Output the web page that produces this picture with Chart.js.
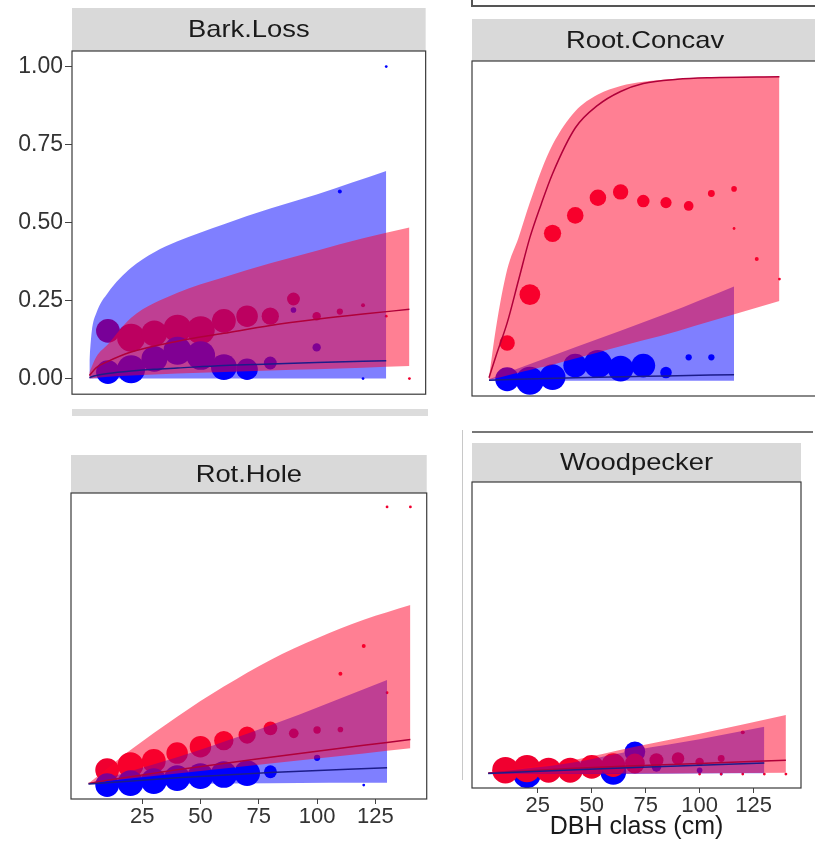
<!DOCTYPE html>
<html>
<head>
<meta charset="utf-8">
<script src="https://cdn.jsdelivr.net/npm/chart.js@4.4.1/dist/chart.umd.min.js"></script>
<style>
  html, body { margin: 0; padding: 0; background: #fff; }
  body { width: 815px; height: 848px; position: relative; overflow: hidden; }
  .panel, .deco { position: absolute; }
</style>
</head>
<body>
<div class="deco" style="left:471px;top:0;width:1.5px;height:6px;background:#555"></div>
<div class="deco" style="left:471px;top:5px;width:344px;height:1.5px;background:#555"></div>
<div class="deco" style="left:72px;top:409px;width:356px;height:7px;background:#dcdcdc"></div>
<div class="deco" style="left:472px;top:431px;width:341px;height:1.5px;background:#777"></div>
<div class="deco" style="left:462px;top:430px;width:1px;height:350px;background:#c8c8c8"></div>

<div class="panel" style="left:0;top:0;width:440px;height:410px"><canvas id="bark" width="440" height="410"></canvas></div>
<div class="panel" style="left:440px;top:0;width:392px;height:410px"><canvas id="root" width="392" height="410"></canvas></div>
<div class="panel" style="left:0;top:440px;width:440px;height:408px"><canvas id="rot" width="440" height="408"></canvas></div>
<div class="panel" style="left:440px;top:420px;width:375px;height:428px"><canvas id="wood" width="375" height="428"></canvas></div>

<script>
// axis ticks and titles
const dbhTicks = [25, 50, 75, 100, 125];
const probTicks = [0, 0.25, 0.5, 0.75, 1];
const panelTitles = ["Bark.Loss", "Root.Concav", "Rot.Hole", "Woodpecker"];
const xTitle = "DBH class (cm)";

// observed points: [DBH class, proportion, trees in class]
const barkBluePts = [[10,0.021,72],[20,0.03,100],[30,0.063,85],[40,0.089,100],[50,0.074,105],[60,0.037,85],[70,0.03,59],[80,0.05,21],[90,0.22,4],[100,0.1,9],[110,0.6,2],[120,0,1],[130,1,1]];
const barkRedPts = [[10,0.153,72],[20,0.131,100],[30,0.145,85],[40,0.16,100],[50,0.155,100],[60,0.185,72],[70,0.2,59],[80,0.2,38],[90,0.255,21],[100,0.2,9],[110,0.215,5],[120,0.235,2],[130,0.2,1],[140,0,1]];
const rootBluePts = [[10,0.005,72],[20,0,100],[30,0.012,85],[40,0.05,72],[50,0.055,100],[60,0.04,85],[70,0.05,72],[80,0.027,17],[90,0.077,5],[100,0.077,5]];
const rootRedPts = [[10,0.124,30],[20,0.283,55],[30,0.484,38],[40,0.543,35],[50,0.601,35],[60,0.62,30],[70,0.59,20],[80,0.585,16],[90,0.574,12],[100,0.615,6],[110,0.63,4],[110,0.5,1],[120,0.4,2],[130,0.334,1]];
const rotBluePts = [[10,0,72],[20,0.007,85],[30,0.014,85],[40,0.025,85],[50,0.032,85],[60,0.038,90],[70,0.043,85],[80,0.048,21],[100,0.098,5],[120,0,1]];
const rotRedPts = [[10,0.054,72],[20,0.072,85],[30,0.087,72],[40,0.115,59],[50,0.138,59],[60,0.16,48],[70,0.18,38],[80,0.204,24],[90,0.186,12],[100,0.198,7],[110,0.2,4],[110,0.4,2],[120,0.5,2],[130,0.332,1],[130,1,1],[140,1,1]];
const woodBluePts = [[20,0,100],[60,0.008,85],[70,0.08,55],[80,0.026,12],[100,0.014,4],[110,0,1]];
const woodRedPts = [[10,0.014,90],[20,0.02,95],[30,0.014,80],[40,0.014,80],[50,0.026,72],[60,0.032,72],[70,0.038,50],[80,0.05,25],[90,0.056,20],[100,0.044,9],[110,0.056,6],[120,0.15,2],[100,0,1],[110,0,1],[120,0,1],[130,0,1],[140,0,1]];

// fitted curves with 95% band
const barkBlueX = [2, 3, 5, 10, 20, 30, 40, 60, 80, 100, 130];
const barkBlueHi = [0.06, 0.15, 0.21, 0.275, 0.355, 0.405, 0.44, 0.495, 0.545, 0.59, 0.665];
const barkBlueLo = [0, 0, 0, 0, 0, 0, 0, 0, 0, 0, 0];
const barkBlueFit = [0.003, 0.006, 0.01, 0.016, 0.024, 0.03, 0.034, 0.042, 0.047, 0.052, 0.057];
const barkRedX = [2, 5, 10, 20, 40, 60, 80, 100, 120, 140];
const barkRedHi = [0.02, 0.07, 0.11, 0.195, 0.275, 0.325, 0.37, 0.41, 0.45, 0.484];
const barkRedLo = [0, 0.003, 0.006, 0.01, 0.016, 0.021, 0.026, 0.03, 0.035, 0.04];
const barkRedFit = [0.01, 0.035, 0.055, 0.085, 0.12, 0.145, 0.17, 0.19, 0.207, 0.222];

const rootBlueX = [2, 40, 80, 110];
const rootBlueHi = [0.005, 0.11, 0.22, 0.31];
const rootBlueLo = [0, 0, 0, 0];
const rootBlueFit = [0.002, 0.01, 0.016, 0.02];
const rootRedX = [2, 5, 10, 15, 20, 25, 30, 40, 50, 60, 70, 85, 100, 130];
const rootRedHi = [0.01, 0.17, 0.365, 0.47, 0.585, 0.69, 0.775, 0.885, 0.94, 0.968, 0.982, 0.992, 0.996, 0.999];
const rootRedLo = [0.003, 0.008, 0.017, 0.026, 0.035, 0.044, 0.053, 0.073, 0.093, 0.113, 0.133, 0.163, 0.196, 0.262];
const rootRedFit = [0.01, 0.08, 0.19, 0.33, 0.47, 0.58, 0.68, 0.83, 0.905, 0.95, 0.976, 0.99, 0.995, 0.998];

const rotBlueX = [2, 40, 80, 130];
const rotBlueHi = [0.006, 0.1, 0.215, 0.378];
const rotBlueLo = [0.003, 0.005, 0.007, 0.008];
const rotBlueFit = [0.004, 0.026, 0.045, 0.062];
const rotRedX = [2, 10, 20, 40, 60, 80, 100, 120, 140];
const rotRedHi = [0.006, 0.06, 0.126, 0.246, 0.354, 0.45, 0.528, 0.594, 0.647];
const rotRedLo = [0.006, 0.015, 0.024, 0.042, 0.06, 0.078, 0.096, 0.114, 0.132];
const rotRedFit = [0.006, 0.017, 0.03, 0.055, 0.078, 0.1, 0.122, 0.143, 0.164];

const woodBlueX = [2, 40, 70, 100, 130];
const woodBlueHi = [0.005, 0.04, 0.086, 0.125, 0.17];
const woodBlueLo = [0, 0, 0, 0.002, 0.003];
const woodBlueFit = [0.002, 0.015, 0.024, 0.032, 0.04];
const woodRedX = [2, 40, 70, 100, 140];
const woodRedHi = [0.005, 0.048, 0.098, 0.145, 0.212];
const woodRedLo = [0, 0.001, 0.002, 0.003, 0.005];
const woodRedFit = [0.004, 0.02, 0.03, 0.038, 0.05];

const FONT = '"Liberation Sans", Arial, Helvetica, sans-serif';
const RED = "#f00030", BLUE = "#0000ff";
const RED_BAND = "rgba(255,0,40,0.5)", BLUE_BAND = "rgba(0,0,255,0.5)";
const RED_LINE = "#b0003a", BLUE_LINE = "#1c1c8a";

function sizeOf(n) {
  return 1.4 * Math.sqrt(n);
}

function toBubbles(pts) {
  return pts.map((p) => ({ x: p[0], y: p[1], r: sizeOf(p[2]) }));
}

function toCurve(xs, ys) {
  return xs.map((x, i) => ({ x: x, y: ys[i] }));
}

function group(g) {
  return [
    { type: "bubble", data: toBubbles(g.pts), backgroundColor: g.color, borderWidth: 0, order: g.ptOrder },
    { type: "line", data: toCurve(g.x, g.hi), fill: "+1", backgroundColor: g.band, borderColor: "transparent",
      borderWidth: 0, pointRadius: 0, cubicInterpolationMode: "monotone", order: g.bandOrder },
    { type: "line", data: toCurve(g.x, g.lo), fill: false, borderColor: "transparent",
      borderWidth: 0, pointRadius: 0, cubicInterpolationMode: "monotone", order: g.bandOrder },
    { type: "line", data: toCurve(g.x, g.fit), fill: false, borderColor: g.line, borderWidth: 1.5,
      pointRadius: 0, cubicInterpolationMode: "monotone", order: 1 },
  ];
}

// grey facet strip on top and dark border round the panel
const stripPlugin = {
  id: "strip",
  beforeDraw(chart, args, opts) {
    const ctx = chart.ctx;
    const a = chart.chartArea;
    ctx.save();
    ctx.fillStyle = "#d9d9d9";
    ctx.fillRect(a.left, opts.top, a.right - a.left, a.top - opts.top);
    ctx.fillStyle = "#1a1a1a";
    ctx.font = "24px " + FONT;
    ctx.textAlign = "center";
    ctx.textBaseline = "middle";
    ctx.translate((a.left + a.right) / 2, (opts.top + a.top) / 2 + 1);
    ctx.scale(1.14, 1);
    ctx.fillText(opts.title, 0, 0);
    ctx.restore();
  },
  afterDraw(chart) {
    const ctx = chart.ctx;
    const a = chart.chartArea;
    ctx.save();
    ctx.strokeStyle = "#3a3a3a";
    ctx.lineWidth = 1.2;
    ctx.strokeRect(a.left, a.top, a.right - a.left, a.bottom - a.top);
    ctx.restore();
  },
};

function makePanel(id, datasets, p) {
  return new Chart(document.getElementById(id), {
    type: "bubble",
    data: { datasets: datasets },
    options: {
      responsive: false,
      animation: false,
      events: [],
      layout: { padding: p.padding },
      plugins: {
        legend: { display: false },
        tooltip: { enabled: false },
        strip: { title: p.title, top: p.stripTop },
      },
      scales: {
        x: {
          type: "linear",
          min: -5.5,
          max: 147,
          bounds: "data",
          display: p.showX,
          afterBuildTicks: (s) => { s.ticks = dbhTicks.map((v) => ({ value: v })); },
          afterFit: (s) => { s.height = p.showX ? p.xHeight : 0; },
          ticks: { autoSkip: false, maxRotation: 0, padding: 0, color: "#333", font: { family: FONT, size: 22 } },
          grid: { drawOnChartArea: false, tickLength: 5, tickColor: "#444", lineWidth: 1 },
          border: { display: false },
          title: { display: !!p.xTitle, text: p.xTitle || "", color: "#1a1a1a", padding: 0, font: { family: FONT, size: 25 } },
        },
        y: {
          type: "linear",
          min: -0.05,
          max: 1.05,
          bounds: "data",
          display: p.showY,
          afterBuildTicks: (s) => { s.ticks = probTicks.map((v) => ({ value: v })); },
          afterFit: (s) => { s.width = p.showY ? 72 : 0; },
          ticks: { autoSkip: false, padding: 2, color: "#333", font: { family: FONT, size: 23 },
            callback: (v) => v.toFixed(2) },
          grid: { drawOnChartArea: false, tickLength: 7, tickColor: "#444", lineWidth: 1 },
          border: { display: false },
        },
      },
    },
    plugins: [stripPlugin],
  });
}

makePanel("bark", [].concat(
  group({ pts: barkBluePts, x: barkBlueX, hi: barkBlueHi, lo: barkBlueLo, fit: barkBlueFit,
    color: BLUE, band: BLUE_BAND, line: BLUE_LINE, ptOrder: 5, bandOrder: 4 }),
  group({ pts: barkRedPts, x: barkRedX, hi: barkRedHi, lo: barkRedLo, fit: barkRedFit,
    color: RED, band: RED_BAND, line: RED_LINE, ptOrder: 6, bandOrder: 3 })
), { title: panelTitles[0], stripTop: 8, showX: false, showY: true,
     padding: { left: 0, top: 51, right: 12, bottom: 12 } });

makePanel("root", [].concat(
  group({ pts: rootBluePts, x: rootBlueX, hi: rootBlueHi, lo: rootBlueLo, fit: rootBlueFit,
    color: BLUE, band: BLUE_BAND, line: BLUE_LINE, ptOrder: 5, bandOrder: 4 }),
  group({ pts: rootRedPts, x: rootRedX, hi: rootRedHi, lo: rootRedLo, fit: rootRedFit,
    color: RED, band: RED_BAND, line: RED_LINE, ptOrder: 6, bandOrder: 3 })
), { title: panelTitles[1], stripTop: 19, showX: false, showY: false,
     padding: { left: 32, top: 61, right: 13, bottom: 12 } });

makePanel("rot", [].concat(
  group({ pts: rotBluePts, x: rotBlueX, hi: rotBlueHi, lo: rotBlueLo, fit: rotBlueFit,
    color: BLUE, band: BLUE_BAND, line: BLUE_LINE, ptOrder: 5, bandOrder: 4 }),
  group({ pts: rotRedPts, x: rotRedX, hi: rotRedHi, lo: rotRedLo, fit: rotRedFit,
    color: RED, band: RED_BAND, line: RED_LINE, ptOrder: 6, bandOrder: 3 })
), { title: panelTitles[2], stripTop: 15, showX: true, showY: false, xHeight: 40,
     padding: { left: 71, top: 53, right: 10, bottom: 9 } });

makePanel("wood", [].concat(
  group({ pts: woodBluePts, x: woodBlueX, hi: woodBlueHi, lo: woodBlueLo, fit: woodBlueFit,
    color: BLUE, band: BLUE_BAND, line: BLUE_LINE, ptOrder: 6, bandOrder: 4 }),
  group({ pts: woodRedPts, x: woodRedX, hi: woodRedHi, lo: woodRedLo, fit: woodRedFit,
    color: RED, band: RED_BAND, line: RED_LINE, ptOrder: 5, bandOrder: 3 })
), { title: panelTitles[3], stripTop: 23, showX: true, showY: false, xHeight: 54, xTitle: xTitle,
     padding: { left: 32, top: 62, right: 2, bottom: 6 } });
</script>
</body>
</html>
